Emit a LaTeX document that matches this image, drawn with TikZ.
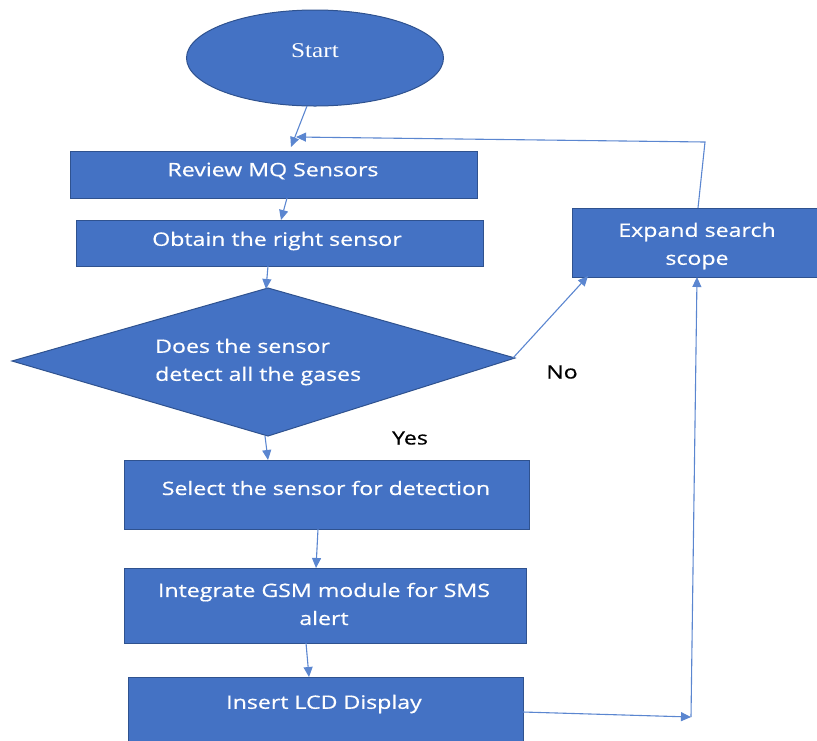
\documentclass[tikz,border=0pt]{standalone}
\usepackage{fontspec}
\setmainfont{Open Sans}[FakeStretch=1.25,FakeBold=0.6]
\newfontfamily\serifstart{Liberation Serif}[FakeStretch=1.2]
\usetikzlibrary{arrows.meta,shapes.geometric}
\definecolor{boxblue}{HTML}{4472C4}
\definecolor{boxedge}{HTML}{2F528F}
\definecolor{arrowblue}{HTML}{5B86D0}
\tikzset{
  box/.style={draw=boxedge,fill=boxblue,line width=1pt},
  txt/.style={text=white,font=\fontsize{18.5}{28}\selectfont,inner sep=0pt,anchor=center},
  lbl/.style={text=black,font=\fontsize{18.5}{28}\selectfont,inner sep=0pt},
  conn/.style={draw=arrowblue,line width=1.1pt,-{Triangle[length=10pt,width=9pt]}},
  plain/.style={draw=arrowblue,line width=1.1pt}
}
\begin{document}
\begin{tikzpicture}[x=1pt,y=-1pt]
\useasboundingbox (0,0) rectangle (817,740);
% shapes
\node[box,ellipse,minimum width=257pt,minimum height=96pt,inner sep=0pt] (start) at (315,58) {};
\node[text=white,font=\serifstart\fontsize{21}{24}\selectfont,inner sep=0pt] (starttxt) at (315,51) {Start};

\draw[box] (70,151) rectangle (477,198);
\node[txt] (reviewtxt) at (273,171) {Review MQ Sensors};

\draw[box] (76,220) rectangle (483,266);
\node[txt] (obtaintxt) at (277,241) {Obtain the right sensor};

\draw[box] (12,361) -- (268,288) -- (515,358) -- (268,436) -- cycle;
\node[txt,align=left,anchor=west] (dectxt) at (155,362) {Does the sensor\\detect all the gases};

\draw[box] (124,460) rectangle (529,529);
\node[txt] (selecttxt) at (326,488) {Select the sensor for detection};

\draw[box] (124,568) rectangle (526,643);
\node[txt,align=center] (integtxt) at (324,604) {Integrate GSM module for SMS\\alert};

\draw[box] (128,677) rectangle (523,745);
\node[txt] (inserttxt) at (324,704) {Insert LCD Display};

\draw[box] (572,208) rectangle (820,277);
\node[txt,align=center] (expandtxt) at (697,246) {Expand search\\scope};

\node[lbl] (no) at (562,372) {No};
\node[lbl] (yes) at (410,438) {Yes};

% connector end points
\coordinate (startout) at (307,106);
\coordinate (reviewin) at (291,147);
\coordinate (loopin) at (296,137);
\coordinate (loopcorner) at (705,142);
\coordinate (expandtop) at (698,208);
\coordinate (reviewout) at (287,198);
\coordinate (obtainin) at (281,220);
\coordinate (obtainout) at (268,266);
\coordinate (dectop) at (266,289);
\coordinate (decbot) at (265,436);
\coordinate (selectin) at (268,460);
\coordinate (decright) at (513,358);
\coordinate (expandin) at (588,276);
\coordinate (selectout) at (318,529);
\coordinate (integin) at (316,568);
\coordinate (integout) at (306,643);
\coordinate (insertin) at (309,677);
\coordinate (insertout) at (523,712);
\coordinate (bcorner) at (691,717);
\coordinate (expandbot) at (697,277);

% connectors
\draw[conn] (startout) -- (reviewin);
\draw[conn] (expandtop) -- (loopcorner) -- (loopin);
\draw[conn] (reviewout) -- (obtainin);
\draw[conn] (obtainout) -- (dectop);
\draw[conn] (decbot) -- (selectin);
\draw[conn] (decright) -- (expandin);
\draw[conn] (selectout) -- (integin);
\draw[conn] (integout) -- (insertin);
\draw[conn] (insertout) -- (bcorner);
\draw[conn] (bcorner) -- (expandbot);
\end{tikzpicture}
\end{document}
